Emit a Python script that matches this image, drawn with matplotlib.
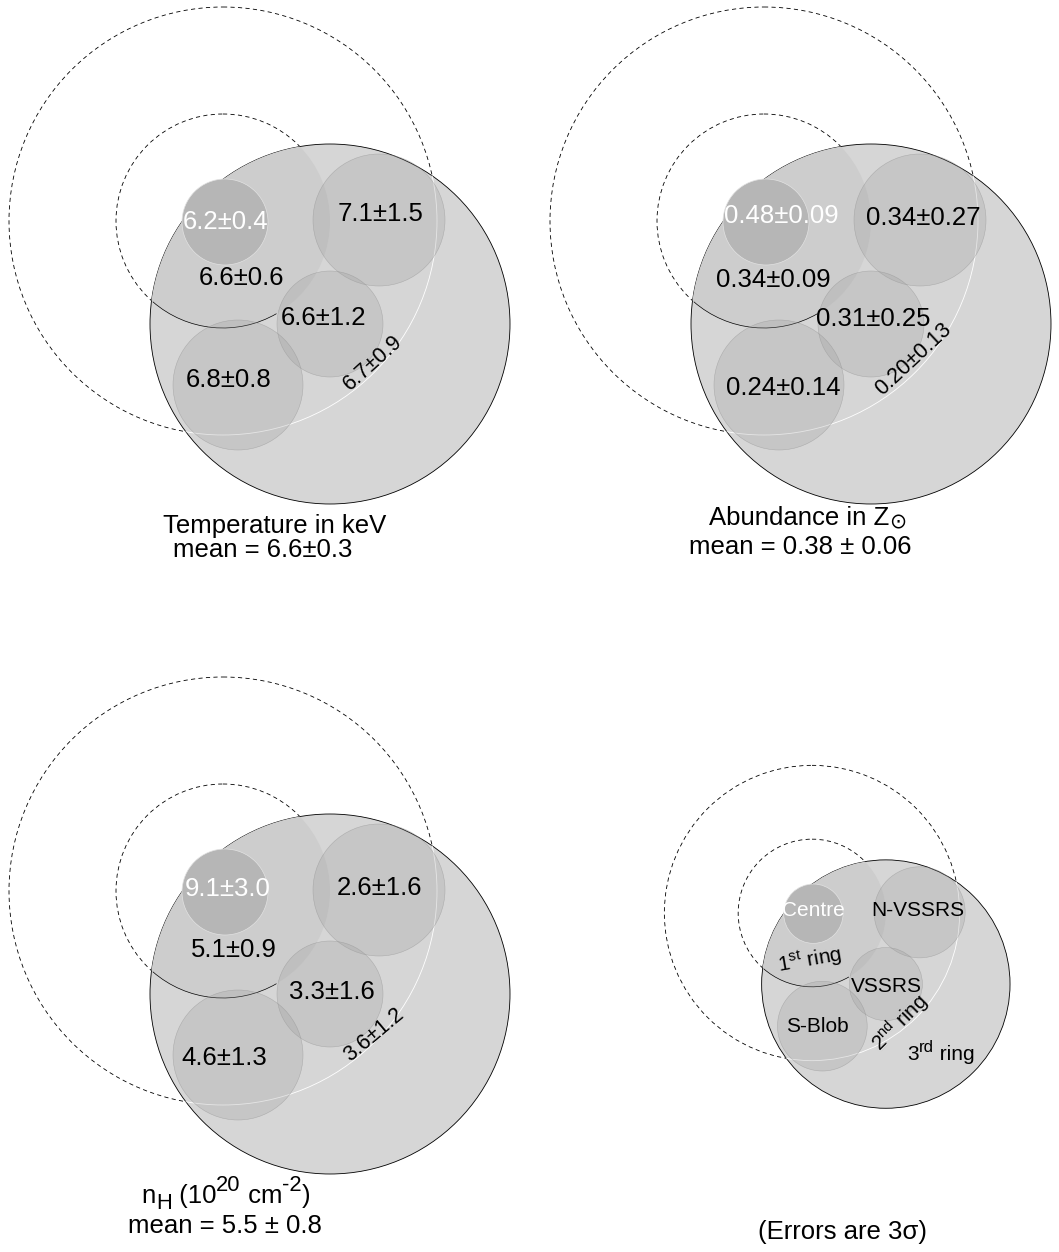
import matplotlib
matplotlib.use('Agg')
import matplotlib.pyplot as plt
from matplotlib.patches import Circle, Arc

plt.rcParams['font.family'] = ['Liberation Sans', 'DejaVu Sans']
plt.rcParams['mathtext.fontset'] = 'custom'
plt.rcParams['mathtext.rm'] = 'Liberation Sans'
plt.rcParams['mathtext.it'] = 'Liberation Sans:italic'
plt.rcParams['mathtext.bf'] = 'Liberation Sans:bold'

# extraction regions, in the order the values below are listed
regions = ['Centre', 'N-VSSRS', '1st ring', 'VSSRS', '2nd ring', 'S-Blob']

temp_val = [6.2, 7.1, 6.6, 6.6, 6.7, 6.8]
temp_err = [0.4, 1.5, 0.6, 1.2, 0.9, 0.8]

abund_val = [0.48, 0.34, 0.34, 0.31, 0.20, 0.24]
abund_err = [0.09, 0.27, 0.09, 0.25, 0.13, 0.14]

nh_val = [9.1, 2.6, 5.1, 3.3, 3.6, 4.6]
nh_err = [3.0, 1.6, 0.9, 1.6, 1.2, 1.3]

key_labels = ['Centre', 'N-VSSRS', r'1$^{\rm st}$ ring', 'VSSRS', r'2$^{\rm nd}$ ring', 'S-Blob']

# geometry of the rings/blobs relative to the ring centre (pixels at scale 1)
R_INNER, R_OUTER = 107, 214
BIG = (107, 103, 180)
BLOBS = {
    'Centre': (2, 1, 43),
    'N-VSSRS': (156, -1, 66),
    'VSSRS': (107, 103, 53),
    'S-Blob': (15, 164, 65),
}

W, H = 1059, 1252
fig = plt.figure(figsize=(W / 100, H / 100), dpi=100)
ax = fig.add_axes([0, 0, 1, 1])
ax.set_xlim(0, W)
ax.set_ylim(H, 0)
ax.axis('off')
renderer = fig.canvas.get_renderer()


def draw_map(ox, oy, s):
    dash = (0, (5, 4))
    for r in (R_OUTER, R_INNER):
        ax.add_patch(Circle((ox, oy), r * s, fill=False, ec='black', lw=0.6,
                            ls=dash, zorder=1))
    bx, by, br = BIG
    big = Circle((ox + bx * s, oy + by * s), br * s, fc='#d6d6d6', ec='black',
                 lw=0.6, zorder=2)
    ax.add_patch(big)

    ring1 = Circle((ox, oy), R_INNER * s, fc='#cdcdcd', ec='none', zorder=3)
    ax.add_patch(ring1)
    ring1.set_clip_path(big)

    edge2 = Circle((ox, oy), R_OUTER * s, fill=False, ec='white', lw=0.6, zorder=4)
    ax.add_patch(edge2)
    edge2.set_clip_path(big)

    ax.add_patch(Arc((ox, oy), 2 * R_INNER * s, 2 * R_INNER * s, theta1=60,
                     theta2=131, color='black', lw=0.5, zorder=4))

    for name in ['N-VSSRS', 'VSSRS', 'S-Blob']:
        cx, cy, r = BLOBS[name]
        ax.add_patch(Circle((ox + cx * s, oy + cy * s), r * s,
                            fc=(0.6, 0.6, 0.6, 0.25), ec=(0.55, 0.55, 0.55, 0.5),
                            lw=0.4, zorder=5))
    cx, cy, r = BLOBS['Centre']
    ax.add_patch(Circle((ox + cx * s, oy + cy * s), r * s, fc='#b6b6b6',
                        ec='#e2e2e2', lw=0.5, zorder=6))


def value_labels(ox, oy, vals, errs, fmt, pos, rot_ring, size=18.5):
    for i, name in enumerate(regions):
        txt = f'{vals[i]:{fmt}}\u00b1{errs[i]:{fmt}}'
        dx, dy = pos[i]
        color = 'white' if name == 'Centre' else 'black'
        if name == '2nd ring':
            ax.text(ox + dx, oy + dy, txt, fontsize=15.5, rotation=rot_ring,
                    rotation_mode='anchor', ha='center', va='center', zorder=10)
        else:
            ax.text(ox + dx, oy + dy, txt, fontsize=size, color=color,
                    ha='center', va='center', zorder=10)


def rich_text(x, y, pieces, size):
    # pieces: (text, relative size, rise in em); x is the centre, y the baseline
    arts = []
    for txt, sc, rise in pieces:
        t = ax.text(0, 0, txt, fontsize=size * sc, ha='left', va='baseline', zorder=10)
        arts.append((t, t.get_window_extent(renderer).width, rise))
    total = sum(w for _, w, _ in arts)
    cursor = x - total / 2
    for t, w, rise in arts:
        t.set_position((cursor, y - rise * size * 100 / 72))
        cursor += w


# temperature
draw_map(223, 221, 1.0)
value_labels(223, 221, temp_val, temp_err, '.1f',
             [(3, 1), (158, -7), (18, 57), (101, 97), (150, 142), (6, 159)], 42)
ax.text(275, 526, 'Temperature in keV', fontsize=18.5, ha='center', va='center')
ax.text(263, 550, 'mean = 6.6\u00b10.3', fontsize=18.5, ha='center', va='center')

# abundance
draw_map(764, 221, 1.0)
value_labels(764, 221, abund_val, abund_err, '.2f',
             [(17, -5), (159, -3), (9, 59), (109, 98), (149, 138), (19, 167)], 43)
rich_text(808, 525, [('Abundance in Z', 1.0, 0), ('\u2299', 0.8, -0.14)], 18.5)
ax.text(800, 547, 'mean = 0.38 \u00b1 0.06', fontsize=18.5, ha='center', va='center')

# column density
draw_map(223, 891, 1.0)
rich_text(226, 1203, [('n', 1.0, 0), ('H', 0.85, -0.22), (' (10', 1.0, 0),
                      ('20', 0.85, 0.45), (' cm', 1.0, 0), ('-2', 0.85, 0.45),
                      (')', 1.0, 0)], 18.5)
ax.text(225, 1226, 'mean = 5.5 \u00b1 0.8', fontsize=18.5, ha='center', va='center')
value_labels(223, 891, nh_val, nh_err, '.1f',
             [(5, -2), (156, -3), (11, 59), (109, 101), (151, 144), (1, 167)], 40)

# key to the regions
draw_map(812, 913, 0.69)
key_pos = [(813, 911), (918, 911), (810, 960), (886, 986), (900, 1023), (817, 1027)]
key_rot = [0, 0, 10, 0, 45, 0]
for i, lab in enumerate(key_labels):
    color = 'white' if regions[i] == 'Centre' else 'black'
    ax.text(key_pos[i][0], key_pos[i][1], lab, fontsize=15, color=color,
            rotation=key_rot[i], rotation_mode='anchor',
            ha='center', va='center', zorder=10)
rich_text(941, 1060, [('3', 1.0, 0), ('rd', 0.8, 0.4), (' ring', 1.0, 0)], 15)
ax.text(842, 1232, '(Errors are 3\u03c3)', fontsize=18.5, ha='center', va='center')

fig.savefig('out.png', dpi=100)
